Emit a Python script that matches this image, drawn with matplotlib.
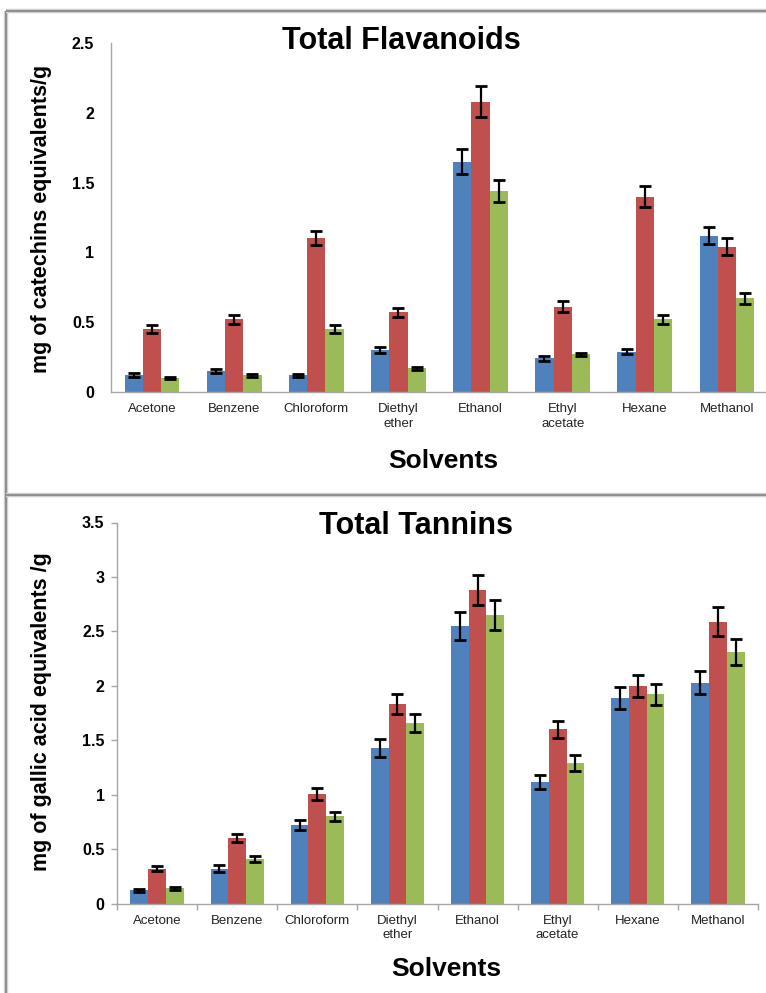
import matplotlib
matplotlib.use("Agg")
import matplotlib.pyplot as plt
from matplotlib.lines import Line2D
import numpy as np

plt.rcParams['font.family'] = ['Liberation Sans', 'DejaVu Sans']

# Solvent extracts on the x axis
solvents = ["Acetone", "Benzene", "Chloroform", "Diethyl\nether",
            "Ethanol", "Ethyl\nacetate", "Hexane", "Methanol"]

# Total flavanoids (mg catechin equivalents / g), three samples per solvent
flav_blue = [0.12, 0.15, 0.12, 0.30, 1.65, 0.24, 0.29, 1.12]
flav_red = [0.45, 0.52, 1.10, 0.57, 2.08, 0.61, 1.40, 1.04]
flav_green = [0.10, 0.12, 0.45, 0.17, 1.44, 0.27, 0.52, 0.67]
flav_blue_err = [0.015, 0.015, 0.01, 0.02, 0.09, 0.02, 0.015, 0.06]
flav_red_err = [0.03, 0.035, 0.05, 0.035, 0.11, 0.04, 0.075, 0.06]
flav_green_err = [0.01, 0.012, 0.03, 0.01, 0.08, 0.01, 0.035, 0.04]
flav_ticks = [0, 0.5, 1, 1.5, 2, 2.5]
flav_ticklabels = ["0", "0.5", "1", "1.5", "2", "2.5"]

# Total tannins (mg gallic acid equivalents / g)
tan_blue = [0.12, 0.32, 0.72, 1.43, 2.55, 1.12, 1.89, 2.03]
tan_red = [0.32, 0.60, 1.01, 1.83, 2.88, 1.60, 2.00, 2.59]
tan_green = [0.14, 0.41, 0.80, 1.66, 2.65, 1.29, 1.92, 2.31]
tan_blue_err = [0.01, 0.03, 0.045, 0.08, 0.13, 0.065, 0.10, 0.105]
tan_red_err = [0.025, 0.035, 0.055, 0.09, 0.14, 0.08, 0.10, 0.135]
tan_green_err = [0.015, 0.025, 0.045, 0.085, 0.14, 0.07, 0.10, 0.12]
tan_ticks = [0, 0.5, 1, 1.5, 2, 2.5, 3, 3.5]
tan_ticklabels = ["0", "0.5", "1", "1.5", "2", "2.5", "3", "3.5"]

COLORS = ["#4F81BD", "#C0504D", "#9BBB59"]
AXIS_GRAY = "#a6a6a6"

W, H = 766, 993
fig = plt.figure(figsize=(W / 100, H / 100), dpi=100)


def fx(px):
    return px / W


def fy(py):
    return 1 - py / H


def panel(rect, series, errors, ticks, ticklabels, ymax, ytick_len, xticks_marks):
    ax = fig.add_axes(rect)
    x = np.arange(len(solvents))
    bw = 0.222
    for i, (vals, errs) in enumerate(zip(series, errors)):
        ax.bar(x + (i - 1) * bw, vals, width=bw, color=COLORS[i],
               yerr=errs, ecolor="black", zorder=2,
               error_kw=dict(elinewidth=1.6, capsize=4, capthick=2.0))
    ax.set_xlim(-0.5, len(solvents) - 0.5)
    ax.set_ylim(0, ymax)
    ax.set_yticks(ticks)
    ax.set_yticklabels(ticklabels, fontsize=11.5, fontweight="bold")
    ax.set_xticks(x)
    ax.set_xticklabels(solvents, fontsize=9.5, color="#222222", linespacing=1.3)
    for s in ("top", "right"):
        ax.spines[s].set_visible(False)
    for s in ("left", "bottom"):
        ax.spines[s].set_color(AXIS_GRAY)
        ax.spines[s].set_linewidth(1.0)
    ax.tick_params(axis="x", length=0, pad=8)
    if ytick_len:
        ax.tick_params(axis="y", length=ytick_len, color=AXIS_GRAY, width=1.0, pad=5)
    else:
        ax.tick_params(axis="y", length=0, pad=12)
    if xticks_marks:
        ax.set_xticks(np.arange(len(solvents) + 1) - 0.5, minor=True)
        ax.tick_params(axis="x", which="minor", length=4, color=AXIS_GRAY, width=1.0)
    ax.patch.set_alpha(0)
    return ax


# Upper panel: flavanoids
panel([fx(111), fy(392), fx(657), (392 - 43) / H],
      [flav_blue, flav_red, flav_green],
      [flav_blue_err, flav_red_err, flav_green_err],
      flav_ticks, flav_ticklabels, 2.5, 0, False)
fig.text(fx(401), fy(41), "Total Flavanoids", ha="center", va="center",
         fontsize=22, fontweight="bold")
fig.text(fx(443), fy(461), "Solvents", ha="center", va="center",
         fontsize=19, fontweight="bold")
fig.text(fx(42), fy(219), "mg of catechins equivalents/g", ha="center", va="center",
         rotation=90, fontsize=15.5, fontweight="bold")

# Lower panel: tannins
panel([fx(117), fy(903.5), fx(641), (903.5 - 522.5) / H],
      [tan_blue, tan_red, tan_green],
      [tan_blue_err, tan_red_err, tan_green_err],
      tan_ticks, tan_ticklabels, 3.5, 4, True)
fig.text(fx(416), fy(526), "Total Tannins", ha="center", va="center",
         fontsize=22, fontweight="bold")
fig.text(fx(446), fy(969), "Solvents", ha="center", va="center",
         fontsize=19, fontweight="bold")
fig.text(fx(42), fy(712), "mg of gallic acid equivalents /g", ha="center", va="center",
         rotation=90, fontsize=15.5, fontweight="bold")

# Chart-area frame lines
for (x0, y0, x1, y1) in [(6, 11, 6, H), (6, 11, W, 11), (6, 495, W, 495)]:
    fig.add_artist(Line2D([fx(x0), fx(x1)], [fy(y0), fy(y1)], color="#cfcfcf",
                          lw=3.2, transform=fig.transFigure, solid_capstyle="butt"))
    fig.add_artist(Line2D([fx(x0), fx(x1)], [fy(y0), fy(y1)], color="#8e8e8e",
                          lw=1.4, transform=fig.transFigure, solid_capstyle="butt"))

fig.savefig("out.png", dpi=100)
